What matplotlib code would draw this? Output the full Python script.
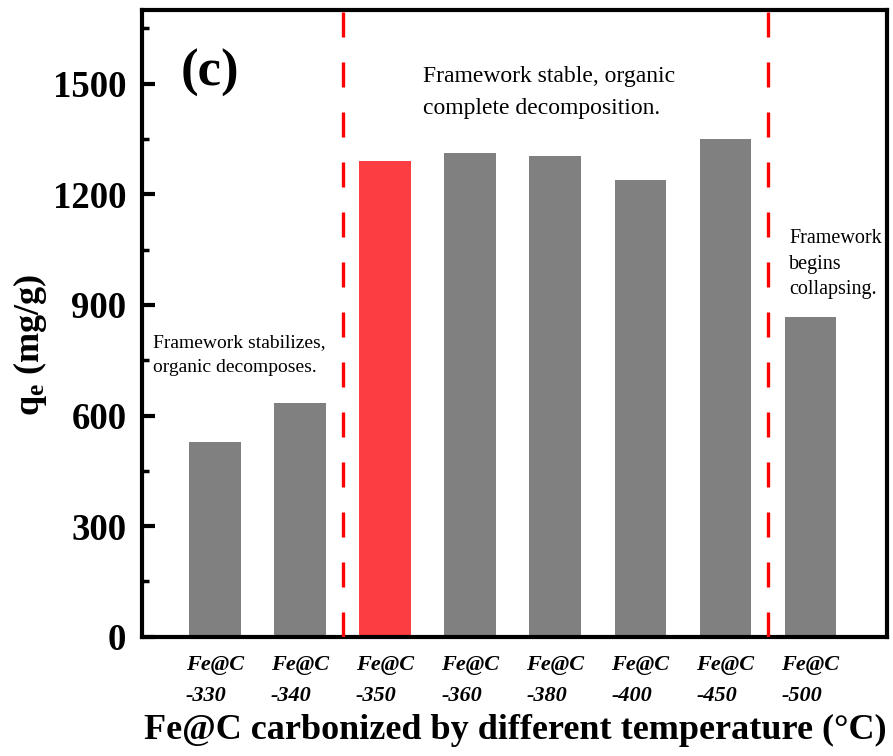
import matplotlib
matplotlib.use('Agg')
import matplotlib.pyplot as plt
import numpy as np

# data
samples = ['Fe@C\n-330', 'Fe@C\n-340', 'Fe@C\n-350', 'Fe@C\n-360',
           'Fe@C\n-380', 'Fe@C\n-400', 'Fe@C\n-450', 'Fe@C\n-500']
qe = [527, 635, 1290, 1312, 1304, 1240, 1351, 868]
highlight = 2  # Fe@C-350 in red
dividers = [1.5, 6.5]

plt.rcParams['font.family'] = ['Liberation Serif', 'DejaVu Serif']
plt.rcParams['mathtext.fontset'] = 'custom'
plt.rcParams['mathtext.rm'] = 'Liberation Serif'
plt.rcParams['mathtext.bf'] = 'Liberation Serif:bold'

fig = plt.figure(figsize=(8.93, 7.56), dpi=100)
ax = fig.add_axes([0.1587, 0.1578, 0.9933 - 0.1587, 0.9868 - 0.1578])

x = np.arange(len(samples))
colors = ['#808080'] * len(samples)
colors[highlight] = '#FC3D41'
ax.bar(x, qe, width=0.605, color=colors, zorder=2)

for d in dividers:
    ax.axvline(d, color='#FF0000', lw=2.4, dashes=(7.5, 7.5), zorder=3)

ax.set_xlim(-0.86, 7.9)
ax.set_ylim(0, 1700)
ax.set_yticks([0, 300, 600, 900, 1200, 1500])
ax.set_yticks(np.arange(150, 1700, 300), minor=True)
ax.set_xticks(x)
ax.set_xticklabels(samples, fontsize=16, fontweight='bold', style='italic',
                   multialignment='left', linespacing=1.75)
for lab in ax.get_yticklabels():
    lab.set_fontsize(26.5)
    lab.set_fontweight('bold')

ax.tick_params(axis='y', which='major', direction='in', length=9, width=3, pad=11)
ax.tick_params(axis='y', which='minor', direction='in', length=5, width=2.5)
ax.tick_params(axis='x', which='both', length=0, pad=13)
for s in ax.spines.values():
    s.set_linewidth(3)

ax.set_ylabel(r'$\mathbf{q_e}$ (mg/g)', fontsize=26, fontweight='bold')
ax.yaxis.set_label_coords(-0.125, 0.465)
fig.text(0.577, 0.012, 'Fe@C carbonized by different temperature (°C)',
         fontsize=26, fontweight='bold', ha='center', va='bottom')

ax.text(0.052, 0.9, '(c)', transform=ax.transAxes, fontsize=38,
        fontweight='bold', va='center')
ax.text(2.45, 1405, 'Framework stable, organic\ncomplete decomposition.',
        fontsize=17, va='bottom', linespacing=1.65)
ax.text(-0.73, 707, 'Framework stabilizes,\norganic decomposes.',
        fontsize=14, va='bottom', linespacing=1.6)
ax.text(6.75, 916, 'Framework\nbegins\ncollapsing.',
        fontsize=14.5, va='bottom', linespacing=1.45)

fig.savefig('out.png', dpi=100)
